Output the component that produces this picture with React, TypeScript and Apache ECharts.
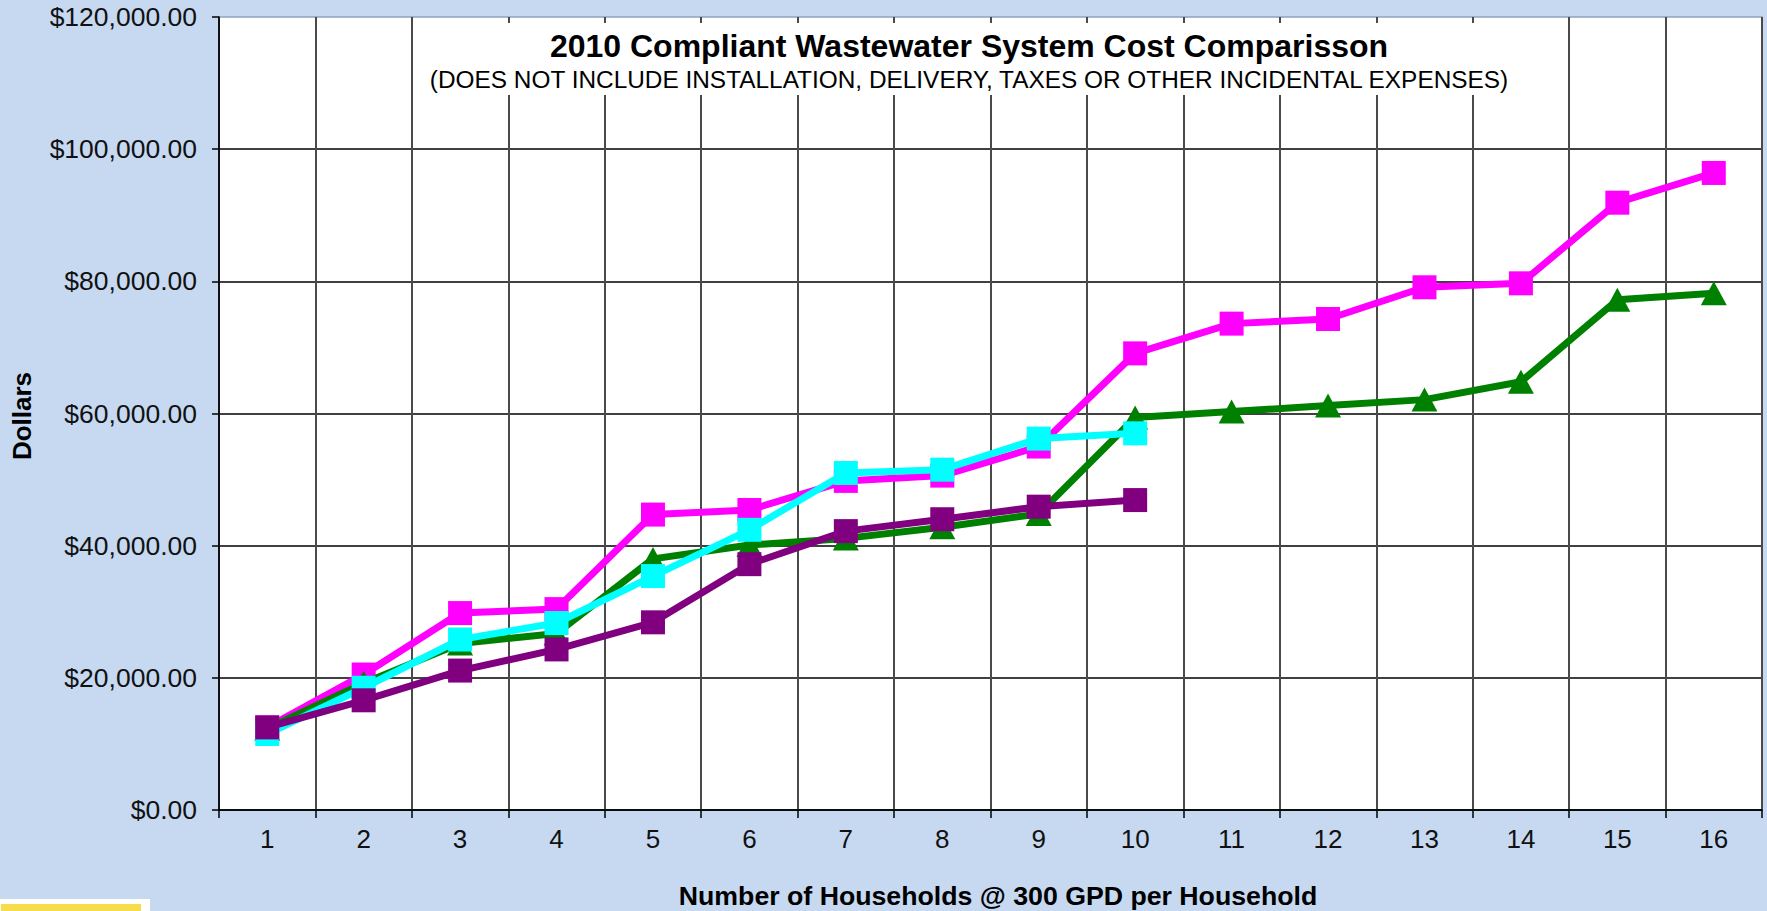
import React, { useEffect, useRef } from 'react';
import * as echarts from 'echarts';

const categories = ['1', '2', '3', '4', '5', '6', '7', '8', '9', '10', '11', '12', '13', '14', '15', '16'];

const magentaValues = [12500, 20500, 29800, 30400, 44700, 45400, 49800, 50600, 55000, 69100, 73600, 74300, 79100, 79700, 91900, 96400];
const greenValues = [12300, 19200, 25200, 26700, 38000, 40100, 41100, 42800, 44800, 59400, 60300, 61200, 62100, 64800, 77200, 78200];
const cyanValues = [11500, 18500, 25800, 28300, 35400, 42400, 51000, 51500, 56200, 57000];
const purpleValues = [12500, 16600, 21100, 24300, 28400, 37200, 42200, 44000, 45900, 46900];

const yMin = 0;
const yMax = 120000;
const yInterval = 20000;

const titleText = '2010 Compliant Wastewater System Cost Comparisson';
const subtitleText = '(DOES NOT INCLUDE INSTALLATION, DELIVERY, TAXES OR OTHER INCIDENTAL EXPENSES)';
const xAxisTitle = 'Number of Households @ 300 GPD per Household';
const yAxisTitle = 'Dollars';

const FONT = '"Liberation Sans", Arial, Helvetica, sans-serif';

function formatDollars(v: number): string {
  const fixed = v.toFixed(2);
  const [intPart, dec] = fixed.split('.');
  let out = '';
  for (let i = 0; i < intPart.length; i++) {
    const fromEnd = intPart.length - i;
    out += intPart[i];
    if (fromEnd > 1 && (fromEnd - 1) % 3 === 0) out += ',';
  }
  return '$' + out + '.' + dec;
}

export default function App() {
  const ref = useRef<HTMLDivElement>(null);

  useEffect(() => {
    if (!ref.current) return;
    const chart = echarts.init(ref.current, null, { renderer: 'svg' });

    const mkSeries = (name: string, data: number[], color: string, symbol: string, size: any, z: number) => ({
      name,
      type: 'line',
      data,
      symbol,
      symbolSize: size,
      showAllSymbol: true,
      z,
      lineStyle: { color, width: 7 },
      itemStyle: { color },
      emphasis: { disabled: true },
    });

    chart.setOption({
      animation: false,
      backgroundColor: '#C6D9F1',
      textStyle: { fontFamily: FONT },
      grid: {
        left: 219,
        right: 5,
        top: 17,
        bottom: 101,
        show: true,
        backgroundColor: '#ffffff',
        borderColor: '#8FA2BE',
        borderWidth: 1.5,
        containLabel: false,
      },
      xAxis: {
        type: 'category',
        data: categories,
        boundaryGap: true,
        axisLine: { show: true, lineStyle: { color: '#000', width: 1.5 } },
        axisTick: { show: true, length: 8, lineStyle: { color: '#000', width: 1.5 } },
        axisLabel: { fontSize: 26, color: '#111', margin: 16, fontFamily: FONT },
        splitLine: { show: true, lineStyle: { color: '#4a4a4a', width: 2 } },
      },
      yAxis: {
        type: 'value',
        min: yMin,
        max: yMax,
        interval: yInterval,
        axisLine: { show: true, lineStyle: { color: '#000', width: 1.5 } },
        axisTick: { show: true, length: 7, lineStyle: { color: '#000', width: 1.5 } },
        axisLabel: { fontSize: 26.5, color: '#111', margin: 22, fontFamily: FONT, formatter: (v: number) => formatDollars(v) },
        splitLine: { show: true, showMaxLine: false, lineStyle: { color: '#000', width: 1.5 } },
      },
      series: [
        mkSeries('Magenta', magentaValues, '#FF00FF', 'rect', 24, 2),
        mkSeries('Green', greenValues, '#008000', 'triangle', [26, 24], 3),
        mkSeries('Cyan', cyanValues, '#00FFFF', 'rect', 24, 4),
        mkSeries('Purple', purpleValues, '#800080', 'rect', 24, 5),
      ],
      graphic: [
        {
          type: 'rect',
          z: 50,
          shape: { x: 424, y: 23, width: 1090, height: 72 },
          style: { fill: '#ffffff' },
        },
        {
          type: 'text',
          z: 51,
          x: 969,
          y: 45.5,
          style: {
            text: titleText,
            font: 'bold 32px ' + FONT,
            fill: '#000',
            align: 'center',
            verticalAlign: 'middle',
            textAlign: 'center',
            textVerticalAlign: 'middle',
          },
        },
        {
          type: 'text',
          z: 51,
          x: 969,
          y: 79,
          style: {
            text: subtitleText,
            font: '24.4px ' + FONT,
            fill: '#000',
            align: 'center',
            verticalAlign: 'middle',
            textAlign: 'center',
            textVerticalAlign: 'middle',
          },
        },
        {
          type: 'text',
          z: 51,
          x: 998,
          y: 896,
          style: {
            text: xAxisTitle,
            font: 'bold 26.7px ' + FONT,
            fill: '#000',
            align: 'center',
            verticalAlign: 'middle',
            textAlign: 'center',
            textVerticalAlign: 'middle',
          },
        },
        {
          type: 'text',
          z: 51,
          x: 22,
          y: 416,
          rotation: Math.PI / 2,
          style: {
            text: yAxisTitle,
            font: 'bold 26px ' + FONT,
            fill: '#000',
            align: 'center',
            verticalAlign: 'middle',
            textAlign: 'center',
            textVerticalAlign: 'middle',
          },
        },
        {
          type: 'rect',
          z: 50,
          shape: { x: 0, y: 899, width: 150, height: 12 },
          style: { fill: '#ffffff' },
        },
        {
          type: 'rect',
          z: 51,
          shape: { x: 1, y: 904, width: 140, height: 7 },
          style: { fill: '#F7DC4C' },
        },
      ],
    });

    return () => chart.dispose();
  }, []);

  return (
    <div
      ref={ref}
      style={{ position: 'fixed', left: 0, top: 0, width: 1767, height: 911, background: '#C6D9F1' }}
    />
  );
}
